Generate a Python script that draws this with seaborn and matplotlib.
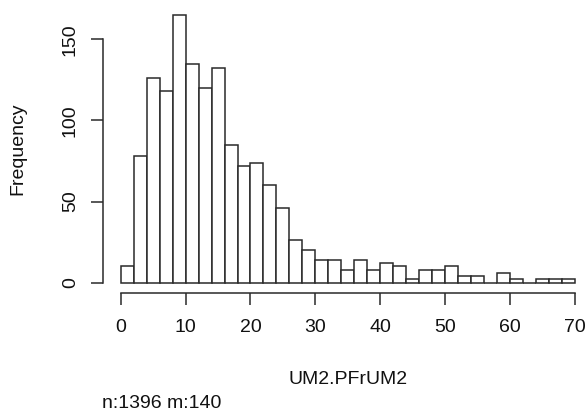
import matplotlib
matplotlib.use("Agg")
import matplotlib.pyplot as plt
import numpy as np
import pandas as pd
import seaborn as sns

# counts per bin of width 2 (0-2, 2-4, ..., 68-70)
bin_width = 2
bin_range = (0, 70)
counts = [10, 78, 126, 118, 165, 135, 120, 132, 85, 72,
          74, 60, 46, 26, 20, 14, 14, 8, 14, 8,
          12, 10, 2, 8, 8, 10, 4, 4, 0, 6,
          2, 0, 2, 2, 2]
bin_mids = np.arange(bin_range[0], bin_range[1], bin_width) + bin_width / 2
x_ticks = [0, 10, 20, 30, 40, 50, 60, 70]
y_ticks = [0, 50, 100, 150]

df = pd.DataFrame({"mid": bin_mids, "count": counts})

sns.set_style("white")
plt.rcParams['font.family'] = ['Liberation Sans', 'DejaVu Sans']

W, H = 587, 412
fig = plt.figure(figsize=(W / 100, H / 100), dpi=100)
# R-like plot region (extends past the right edge, as in the cropped reference)
left, right, top, bottom = 102.5, 593.2, 4.2, 293.4
ax = fig.add_axes([left / W, 1 - bottom / H, (right - left) / W, (bottom - top) / H])

line_col = "#2a2a2a"
lw = 1.1

sns.histplot(data=df, x="mid", weights="count", binwidth=bin_width,
             binrange=bin_range, ax=ax,
             color="white", edgecolor=line_col, linewidth=lw, alpha=1)

ax.set_xlim(-2.8, 72.8)
ax.set_ylim(-6.6, 171.6)
ax.set_xticks(x_ticks)
ax.set_yticks(y_ticks)

for s in ["top", "right"]:
    ax.spines[s].set_visible(False)
for s in ["left", "bottom"]:
    ax.spines[s].set_color(line_col)
    ax.spines[s].set_linewidth(lw)
ax.spines["left"].set_bounds(0, 150)
ax.spines["bottom"].set_bounds(0, 70)

ax.tick_params(axis="both", direction="out", length=8.4, width=lw,
               color=line_col, labelsize=14, labelcolor="#111111",
               left=True, bottom=True)
ax.tick_params(axis="x", pad=10)
ax.tick_params(axis="y", pad=8.6, labelrotation=90)
for lab in ax.get_yticklabels():
    lab.set_va("center")

ax.set_xlabel("UM2.PFrUM2", fontsize=14, color="#111111", va="center")
ax.xaxis.set_label_coords(0.5, (bottom - 380) / (bottom - top))
ax.set_ylabel("Frequency", fontsize=14, color="#111111", va="center", ha="center")
ax.yaxis.set_label_coords((18.3 - left) / (right - left), 0.5)

fig.text(102 / W, 1 - 403 / H, "n:1396 m:140", fontsize=14, color="#111111",
         ha="left", va="center")

fig.savefig("out.png", dpi=100)
